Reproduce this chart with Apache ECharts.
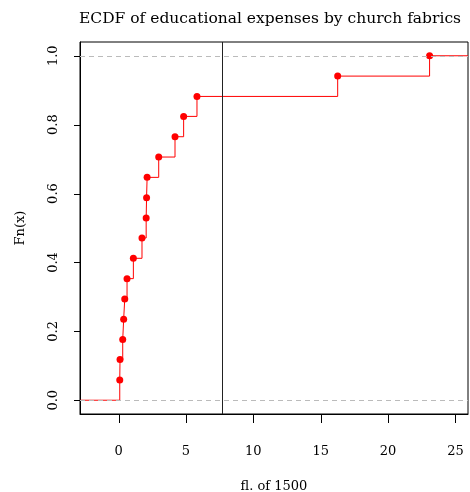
<!DOCTYPE html>
<html>
<head>
<meta charset="utf-8">
<script src="https://cdn.jsdelivr.net/npm/echarts@6/dist/echarts.min.js"></script>
<style>html,body{margin:0;padding:0;background:#fff}#c{width:470px;height:492px}</style>
</head>
<body>
<div id="c"></div>
<script>
// Data
const xValues = [0.09, 0.11, 0.31, 0.38, 0.46, 0.63, 1.10, 1.74, 2.05, 2.08, 2.12, 2.98, 4.19, 4.83, 5.82, 16.26, 23.08];
const fnValues = [0.059, 0.118, 0.176, 0.235, 0.294, 0.353, 0.412, 0.471, 0.529, 0.588, 0.647, 0.706, 0.765, 0.824, 0.882, 0.941, 1.0];
const xTicks = [0, 5, 10, 15, 20, 25];
const yTicks = [0, 0.2, 0.4, 0.6, 0.8, 1.0];
const refLineX = 7.7;
const xRange = [-2.86, 25.93];
const yRange = [-0.04, 1.04];

const serif = '"DejaVu Serif", "Liberation Serif", serif';
const points = xValues.map((x, i) => [x, fnValues[i]]);
const stepData = [[xRange[0], 0]].concat(points, [[xRange[1], fnValues[fnValues.length - 1]]]);

const chart = echarts.init(document.getElementById('c'));
chart.setOption({
  animation: false,
  title: {
    text: 'ECDF of educational expenses by church fabrics',
    left: 265, top: 6, textAlign: 'center',
    textStyle: { fontFamily: serif, fontSize: 15.5, fontWeight: 'normal', color: '#000' }
  },
  grid: { left: 80, right: 2, top: 42, bottom: 78, show: true, borderColor: '#000', borderWidth: 1,
    outerBoundsMode: 'none' },
  xAxis: {
    type: 'value', min: xRange[0], max: xRange[1],
    name: 'fl. of 1500', nameLocation: 'middle', nameGap: 66,
    nameTextStyle: { fontFamily: serif, fontSize: 13, color: '#000' },
    axisLine: { show: true, onZero: false, lineStyle: { color: '#000', width: 1 } },
    splitLine: { show: false },
    axisTick: { show: false },
    axisLabel: { customValues: xTicks, fontFamily: serif, fontSize: 13, color: '#000', margin: 31 }
  },
  yAxis: {
    type: 'value', min: yRange[0], max: yRange[1],
    name: 'Fn(x)', nameLocation: 'middle', nameGap: 53,
    nameTextStyle: { fontFamily: serif, fontSize: 13, color: '#000' },
    axisLine: { show: true, onZero: false, lineStyle: { color: '#000', width: 1 } },
    splitLine: { show: false },
    axisTick: { show: false },
    axisLabel: { customValues: yTicks, rotate: 90, fontFamily: serif, fontSize: 13, color: '#000', margin: 20,
      formatter: v => v.toFixed(1) }
  },
  series: [
    {
      type: 'line', step: 'end', data: stepData, showSymbol: false, symbol: 'none',
      lineStyle: { color: '#ff0000', width: 1 }, silent: true, z: 3,
      markLine: {
        silent: true, symbol: 'none', label: { show: false },
        data: [
          { yAxis: 0, lineStyle: { color: '#bbbbbb', type: [5, 4], width: 1 } },
          { yAxis: 1, lineStyle: { color: '#bbbbbb', type: [5, 4], width: 1 } },
          { xAxis: refLineX, lineStyle: { color: '#222', type: 'solid', width: 1 } }
        ]
      }
    },
    {
      type: 'scatter', data: points, symbol: 'circle', symbolSize: 7,
      itemStyle: { color: '#ff0000', opacity: 1 }, silent: true, z: 4
    },
    {
      // x-axis tick marks, placed through the axis scale
      type: 'custom', silent: true, clip: false, z: 5,
      data: xTicks.map(v => [v, yRange[0]]),
      renderItem: function (params, api) {
        const p = api.coord([api.value(0), api.value(1)]);
        const x = Math.round(p[0]) + 0.5;
        return { type: 'line', shape: { x1: x, y1: p[1], x2: x, y2: p[1] + 9 },
          style: { stroke: '#000', lineWidth: 1 } };
      }
    },
    {
      // y-axis tick marks, placed through the axis scale
      type: 'custom', silent: true, clip: false, z: 5,
      data: yTicks.map(v => [xRange[0], v]),
      renderItem: function (params, api) {
        const p = api.coord([api.value(0), api.value(1)]);
        const y = Math.round(p[1]) + 0.5;
        return { type: 'line', shape: { x1: p[0], y1: y, x2: p[0] - 6, y2: y },
          style: { stroke: '#000', lineWidth: 1 } };
      }
    }
  ]
});
</script>
</body>
</html>
